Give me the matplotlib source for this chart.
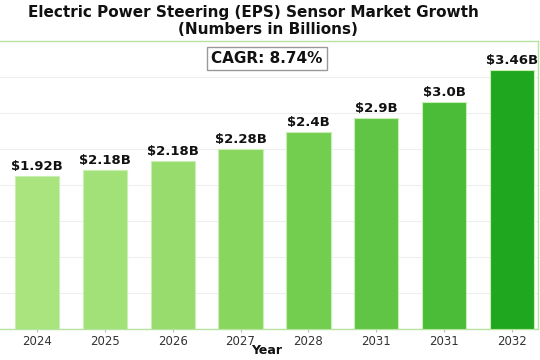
import numpy as np
import matplotlib
matplotlib.use("Agg")
import matplotlib.pyplot as plt
from matplotlib.colors import LinearSegmentedColormap, Normalize

# data
years = ["2024", "2025", "2026", "2027", "2028", "2031", "2031", "2032"]
values = [2.12, 2.21, 2.33, 2.50, 2.74, 2.93, 3.15, 3.60]
value_labels = ["$1.92B", "$2.18B", "$2.18B", "$2.28B", "$2.4B", "$2.9B", "$3.0B", "$3.46B"]
cagr_text = "CAGR: 8.74%"

fig = plt.figure(figsize=(5.4, 3.6), dpi=100)
ax = fig.add_axes([-4 / 540, 31 / 360, 542 / 540, 288 / 360])

cmap = LinearSegmentedColormap.from_list("gr", ["#a9e47e", "#7fd256", "#4fbe3a", "#1fa81f"])
norm = Normalize(vmin=min(values), vmax=max(values))
colors = cmap(norm(values))

x = np.arange(len(years))
bars = ax.bar(x, values, width=0.65, color=colors, edgecolor="#c9efb4", linewidth=0.8, zorder=3)

for b, lab in zip(bars, value_labels):
    ax.text(b.get_x() + b.get_width() / 2, b.get_height() + 0.04, lab,
            ha="center", va="bottom", fontsize=9.5, fontweight="bold", color="#111111")

ax.set_xlim(-0.6, 7.38)
ax.set_ylim(0, 4.0)
ax.set_yticks(np.arange(0, 4.01, 0.5))
ax.yaxis.grid(True, color="#eeeeee", linewidth=0.8, zorder=0)
ax.tick_params(axis="y", left=False, labelleft=False)
ax.tick_params(axis="x", length=2, color="#bbbbbb", labelsize=8.5, labelcolor="#333333", pad=2)
ax.set_xticks(x)
ax.set_xticklabels(years)
for s in ax.spines.values():
    s.set_color("#b5e3a0")
    s.set_linewidth(1.0)

ax.text(0.5, -21 / 288, "Year", transform=ax.transAxes, ha="center", va="center",
        fontsize=9, fontweight="bold", color="#111111")

fig.text(253 / 540, 1 - 12 / 360, "Electric Power Steering (EPS) Sensor Market Growth",
         ha="center", va="center", fontsize=11, fontweight="bold", color="#111111")
fig.text(268 / 540, 1 - 30 / 360, "(Numbers in Billions)",
         ha="center", va="center", fontsize=11, fontweight="bold", color="#111111")

ax.text(0.5, 0.94, cagr_text, transform=ax.transAxes, ha="center", va="center",
        fontsize=11, fontweight="bold", color="#111111",
        bbox=dict(boxstyle="square,pad=0.25", facecolor="white", edgecolor="#999999", linewidth=1))

fig.savefig("out.png", dpi=100)
